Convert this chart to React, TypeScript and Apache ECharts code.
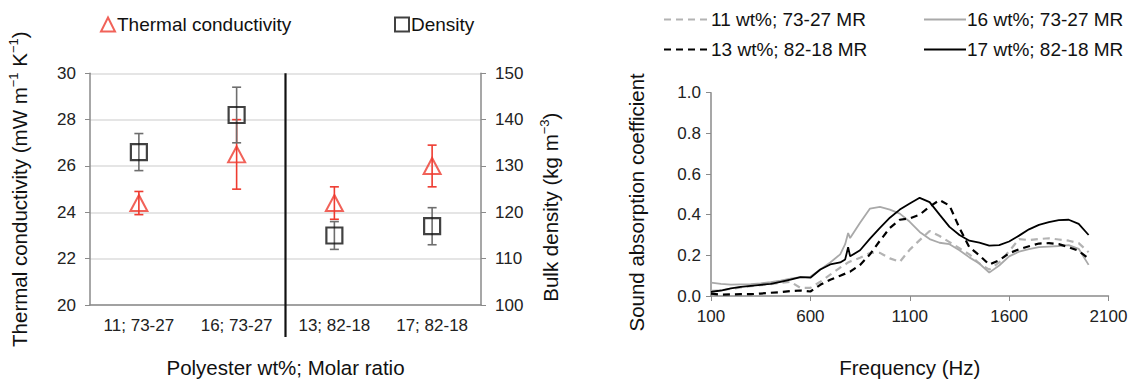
import React, { useEffect, useRef } from 'react';
import * as echarts from 'echarts';

// ---------- Left chart data ----------
const categories = ['11; 73-27', '16; 73-27', '13; 82-18', '17; 82-18'];
const conductivity = [24.4, 26.5, 24.4, 26.0];
const conductivityErr = [0.5, 1.5, 0.7, 0.9];
const density = [133, 141, 115, 117];
const densityErr = [4, 6, 3, 4];
const conductivityTicks = { min: 20, max: 30, interval: 2 };
const densityTicks = { min: 100, max: 150, interval: 10 };

// ---------- Right chart data ----------
const freq = [100, 150, 200, 250, 300, 350, 400, 450, 500, 550, 600, 650, 700, 750, 775, 790, 800, 850, 900, 950, 1000, 1050, 1100, 1150, 1200, 1250, 1300, 1350, 1400, 1450, 1500, 1550, 1600, 1650, 1700, 1750, 1800, 1850, 1900, 1950, 2000];
const mr11_7327 = [0.025, 0.028, 0.035, 0.042, 0.048, 0.053, 0.058, 0.065, 0.07, 0.04, 0.04, 0.07, 0.105, 0.14, 0.155, 0.165, 0.17, 0.188, 0.212, 0.212, 0.185, 0.168, 0.228, 0.275, 0.32, 0.295, 0.265, 0.235, 0.205, 0.16, 0.13, 0.165, 0.22, 0.28, 0.275, 0.28, 0.284, 0.278, 0.272, 0.26, 0.215];
const mr16_7327 = [0.066, 0.06, 0.056, 0.057, 0.058, 0.062, 0.068, 0.075, 0.085, 0.093, 0.095, 0.13, 0.165, 0.205, 0.255, 0.31, 0.285, 0.36, 0.43, 0.438, 0.425, 0.405, 0.365, 0.315, 0.28, 0.262, 0.255, 0.225, 0.19, 0.16, 0.115, 0.15, 0.195, 0.218, 0.23, 0.24, 0.243, 0.246, 0.25, 0.232, 0.153];
const mr13_8218 = [0.012, 0.006, 0.008, 0.009, 0.009, 0.012, 0.016, 0.019, 0.024, 0.027, 0.022, 0.055, 0.08, 0.1, 0.11, 0.118, 0.12, 0.153, 0.205, 0.272, 0.335, 0.375, 0.382, 0.4, 0.44, 0.472, 0.445, 0.335, 0.24, 0.2, 0.155, 0.176, 0.21, 0.23, 0.245, 0.258, 0.26, 0.255, 0.24, 0.222, 0.184];
const mr17_8218 = [0.02, 0.027, 0.038, 0.045, 0.05, 0.055, 0.06, 0.07, 0.08, 0.093, 0.09, 0.13, 0.155, 0.165, 0.18, 0.24, 0.195, 0.225, 0.282, 0.335, 0.385, 0.425, 0.455, 0.483, 0.462, 0.4, 0.34, 0.3, 0.272, 0.262, 0.248, 0.25, 0.268, 0.297, 0.328, 0.35, 0.363, 0.373, 0.375, 0.355, 0.3];
const freqTicks = { min: 100, max: 2100, interval: 500 };
const absorptionTicks = { min: 0, max: 1, interval: 0.2 };

const FONT = "'Liberation Sans', Arial, sans-serif";
const RED = '#ee3b30';
const AXIS = '#8a8a8a';

function errorBar(color: string) {
  return (_params: any, api: any) => {
    const top = api.coord([api.value(0), api.value(2)]);
    const bot = api.coord([api.value(0), api.value(1)]);
    const cap = 4.5;
    const st = { stroke: color, lineWidth: 1.6 };
    return {
      type: 'group',
      children: [
        { type: 'line', shape: { x1: top[0], y1: top[1], x2: bot[0], y2: bot[1] }, style: st },
        { type: 'line', shape: { x1: top[0] - cap, y1: top[1], x2: top[0] + cap, y2: top[1] }, style: st },
        { type: 'line', shape: { x1: bot[0] - cap, y1: bot[1], x2: bot[0] + cap, y2: bot[1] }, style: st },
      ],
    };
  };
}

export default function App() {
  const ref = useRef<HTMLDivElement>(null);
  useEffect(() => {
    const chart = echarts.init(ref.current!, null, { renderer: 'svg' });
    const labelStyle = { color: '#222', fontSize: 17, fontFamily: FONT };
    const nameStyle = { color: '#111', fontSize: 20.5, fontFamily: FONT };
    const richName = {
      n: { fontSize: 20.5, fontFamily: FONT, color: '#111', lineHeight: 25 },
      s: { fontSize: 13, fontFamily: FONT, color: '#111', verticalAlign: 'top', lineHeight: 25 },
    };
    const lineSeries = (name: string, values: number[], color: string, dashed: boolean, width: number) => ({
      name,
      type: 'line',
      xAxisIndex: 1,
      yAxisIndex: 2,
      data: freq.map((f, i) => [f, values[i]]),
      showSymbol: false,
      symbol: 'none',
      lineStyle: { color, width, type: dashed ? [7, 5] : 'solid' },
      itemStyle: { color },
    });
    const lineLegendText = { fontSize: 19, color: '#111', fontFamily: FONT, padding: [0, 0, 0, -4] };
    chart.setOption({
      animation: false,
      textStyle: { fontFamily: FONT },
      grid: [
        { left: 90, top: 73.3, width: 391, height: 236.7 },
        { left: 711, top: 92.7, width: 397.5, height: 217.3 },
      ],
      legend: [
        {
          data: ['Thermal conductivity'],
          left: 95, top: 10, itemWidth: 14, itemHeight: 14,
          textStyle: { fontSize: 19, color: '#111', fontFamily: FONT, padding: [0, 0, 0, -3] },
        },
        {
          data: ['Density'],
          left: 389, top: 10, itemWidth: 14, itemHeight: 14,
          textStyle: { fontSize: 19, color: '#111', fontFamily: FONT, padding: [0, 0, 0, -3] },
        },
        {
          data: ['11 wt%; 73-27 MR', '13 wt%; 82-18 MR'],
          orient: 'vertical', left: 658, top: 5, itemGap: 11, itemWidth: 46, itemHeight: 18,
          itemStyle: { opacity: 0 },
          textStyle: lineLegendText,
        },
        {
          data: ['16 wt%; 73-27 MR', '17 wt%; 82-18 MR'],
          orient: 'vertical', left: 918, top: 5, itemGap: 11, itemWidth: 42, itemHeight: 18,
          itemStyle: { opacity: 0 },
          textStyle: lineLegendText,
        },
      ],
      xAxis: [
        {
          type: 'category', gridIndex: 0, data: categories, boundaryGap: true,
          axisLine: { lineStyle: { color: AXIS, width: 1.5 } },
          axisTick: { alignWithLabel: true, length: 5, lineStyle: { color: AXIS } },
          axisLabel: { ...labelStyle, margin: 12 },
          name: 'Polyester wt%; Molar ratio', nameLocation: 'middle', nameGap: 52, nameTextStyle: nameStyle,
        },
        {
          type: 'value', gridIndex: 1, ...freqTicks,
          axisLine: { lineStyle: { color: AXIS, width: 1.5 } },
          axisTick: { show: true, length: 5, lineStyle: { color: AXIS } },
          axisLabel: { ...labelStyle, margin: 12, formatter: (v: number) => String(v) },
          splitLine: { show: false },
          name: 'Frequency (Hz)', nameLocation: 'middle', nameGap: 61, nameTextStyle: nameStyle,
        },
      ],
      yAxis: [
        {
          type: 'value', gridIndex: 0, position: 'left', ...conductivityTicks,
          axisLine: { show: true, lineStyle: { color: AXIS, width: 1.5 } },
          axisTick: { show: true, length: 5, lineStyle: { color: AXIS } },
          axisLabel: { ...labelStyle, margin: 14 },
          splitLine: { show: true, lineStyle: { color: '#dcdcdc', width: 1.5 } },
          name: '{n|Thermal conductivity (mW m}{s|−1}{n| K}{s|−1}{n|)}',
          nameLocation: 'middle', nameGap: 58, nameRotate: 90,
          nameTextStyle: { ...nameStyle, rich: richName },
        },
        {
          type: 'value', gridIndex: 0, position: 'right', ...densityTicks,
          axisLine: { show: true, lineStyle: { color: AXIS, width: 1.5 } },
          axisTick: { show: true, length: 5, lineStyle: { color: AXIS } },
          axisLabel: { ...labelStyle, margin: 14 },
          splitLine: { show: false },
          name: '{n|Bulk density (kg m}{s|−3}{n|)}',
          nameLocation: 'middle', nameGap: 57, nameRotate: 90,
          nameTextStyle: { ...nameStyle, rich: richName, padding: [0, 36, 0, 0] },
        },
        {
          type: 'value', gridIndex: 1, ...absorptionTicks,
          axisLine: { show: true, lineStyle: { color: AXIS, width: 1.5 } },
          axisTick: { show: true, length: 5, lineStyle: { color: AXIS } },
          axisLabel: { ...labelStyle, margin: 10, formatter: (v: number) => v.toFixed(1) },
          splitLine: { show: false },
          name: 'Sound absorption coefficient', nameLocation: 'middle', nameGap: 64, nameRotate: 90,
          nameTextStyle: { ...nameStyle, padding: [0, 16, 0, 0] },
        },
      ],
      series: [
        {
          name: 'divider', type: 'custom', xAxisIndex: 0, yAxisIndex: 0, data: [[0]], silent: true,
          renderItem: (_p: any, api: any) => {
            const a = api.coord([1, conductivityTicks.max]);
            const b = api.coord([2, conductivityTicks.min]);
            const x = (a[0] + b[0]) / 2;
            return { type: 'line', shape: { x1: x, y1: a[1], x2: x, y2: b[1] + 32 }, style: { stroke: '#111', lineWidth: 2.2 } };
          },
        },
        {
          name: 'Thermal conductivity', type: 'scatter', xAxisIndex: 0, yAxisIndex: 0,
          data: conductivity, symbol: 'triangle', symbolSize: [17, 16],
          itemStyle: { color: 'rgba(255,255,255,0)', borderColor: RED, borderWidth: 2 },
        },
        {
          name: 'Density', type: 'scatter', xAxisIndex: 0, yAxisIndex: 1,
          data: density, symbol: 'rect', symbolSize: 16,
          itemStyle: { color: 'rgba(255,255,255,0)', borderColor: '#111', borderWidth: 2.2 },
        },
        {
          name: 'tcErr', type: 'custom', xAxisIndex: 0, yAxisIndex: 0,
          data: conductivity.map((v, i) => [i, v - conductivityErr[i], v + conductivityErr[i]]),
          renderItem: errorBar(RED),
        },
        {
          name: 'densErr', type: 'custom', xAxisIndex: 0, yAxisIndex: 1,
          data: density.map((v, i) => [i, v - densityErr[i], v + densityErr[i]]),
          renderItem: errorBar('#6e6e6e'),
        },
        lineSeries('11 wt%; 73-27 MR', mr11_7327, '#b3b3b3', true, 2.2),
        lineSeries('16 wt%; 73-27 MR', mr16_7327, '#a9a9a9', false, 1.8),
        lineSeries('13 wt%; 82-18 MR', mr13_8218, '#000000', true, 2.2),
        lineSeries('17 wt%; 82-18 MR', mr17_8218, '#000000', false, 1.8),
      ],
    });
    return () => chart.dispose();
  }, []);
  return <div ref={ref} style={{ position: 'absolute', left: 0, top: 0, width: 1133, height: 383, background: '#fff' }} />;
}
